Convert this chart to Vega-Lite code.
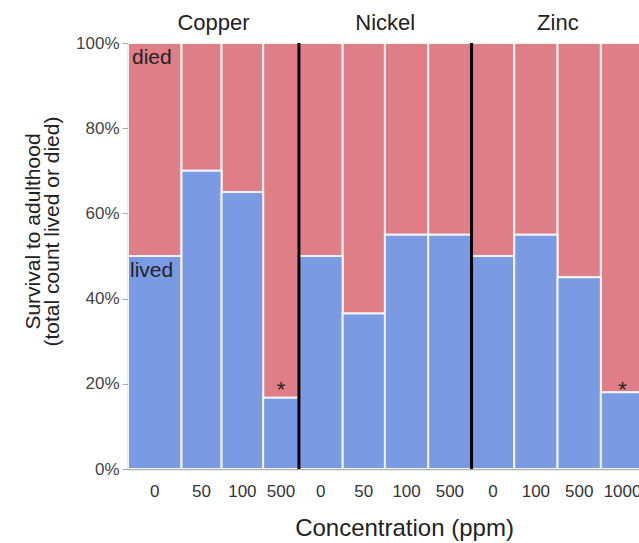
{
  "$schema": "https://vega.github.io/schema/vega-lite/v6.json",
  "autosize": {"type": "none"},
  "padding": {"left": 128, "top": 43, "right": 0, "bottom": 74},
  "width": 511,
  "height": 426,
  "config": {"view": {"stroke": null}, "font": "Liberation Sans"},
  "data": {"values": [
    {"metal": "Copper", "conc": 0, "n": 24.7, "lived": 0.50, "sig": ""},
    {"metal": "Copper", "conc": 50, "n": 18.5, "lived": 0.70, "sig": ""},
    {"metal": "Copper", "conc": 100, "n": 19.2, "lived": 0.65, "sig": ""},
    {"metal": "Copper", "conc": 500, "n": 16.5, "lived": 0.167, "sig": "*"},
    {"metal": "Nickel", "conc": 0, "n": 20.2, "lived": 0.50, "sig": ""},
    {"metal": "Nickel", "conc": 50, "n": 19.5, "lived": 0.365, "sig": ""},
    {"metal": "Nickel", "conc": 100, "n": 20.0, "lived": 0.55, "sig": ""},
    {"metal": "Nickel", "conc": 500, "n": 20.0, "lived": 0.55, "sig": ""},
    {"metal": "Zinc", "conc": 0, "n": 19.7, "lived": 0.50, "sig": ""},
    {"metal": "Zinc", "conc": 100, "n": 20.0, "lived": 0.55, "sig": ""},
    {"metal": "Zinc", "conc": 500, "n": 20.0, "lived": 0.45, "sig": ""},
    {"metal": "Zinc", "conc": 1000, "n": 20.0, "lived": 0.18, "sig": "*"}
  ]},
  "transform": [
    {"stack": "n", "groupby": [], "sort": [{"field": "metal"}, {"field": "conc"}], "as": ["x0", "x1"]},
    {"calculate": "(datum.x0 + datum.x1) / 2", "as": "xm"},
    {"joinaggregate": [{"op": "max", "field": "x1", "as": "gmax"}, {"op": "min", "field": "x0", "as": "gmin"}], "groupby": ["metal"]}
  ],
  "layer": [
    {
      "mark": {"type": "rect", "color": "#E07E88", "stroke": "#f4f4f4", "strokeWidth": 2, "clip": true},
      "encoding": {
        "x": {"field": "x0", "type": "quantitative", "scale": {"domain": [0, 235.9], "nice": false, "zero": false},
              "axis": {"title": "Concentration (ppm)", "labels": false, "ticks": false, "grid": false, "domainColor": "#b0b0b0", "domainWidth": 1.5,
                       "titleFontSize": 24, "titleFontWeight": "normal", "titleColor": "#222", "titleBaseline": "alphabetic", "titleY": 66, "titleX": 276, "titleAlign": "center", "titleAnchor": null}},
        "x2": {"field": "x1"},
        "y": {"field": "lived", "type": "quantitative", "scale": {"domain": [0, 1], "nice": false},
              "axis": {"values": [0, 0.2, 0.4, 0.6, 0.8, 1], "format": ".0%", "grid": false, "labelFontSize": 17, "labelColor": "#444", "labelPadding": 3,
                       "tickColor": "#aaa", "tickSize": 6, "domainColor": "#b0b0b0", "domainWidth": 1.5,
                       "title": ["Survival to adulthood", "(total count lived or died)"], "titleFontSize": 21, "titleFontWeight": "normal", "titleColor": "#222",
                       "titleLineHeight": 19, "titleAngle": 270, "titleBaseline": "top", "titleAlign": "center", "titleX": -106, "titleY": 188}},
        "y2": {"datum": 1}
      }
    },
    {
      "mark": {"type": "rect", "color": "#7B9AE4", "stroke": "#f4f4f4", "strokeWidth": 2, "clip": true},
      "encoding": {
        "x": {"field": "x0", "type": "quantitative"},
        "x2": {"field": "x1"},
        "y": {"field": "lived", "type": "quantitative"},
        "y2": {"datum": 0}
      }
    },
    {
      "transform": [{"filter": "datum.x1 == datum.gmax && datum.metal != 'Zinc'"}],
      "mark": {"type": "rule", "color": "black", "strokeWidth": 3},
      "encoding": {
        "x": {"field": "x1", "type": "quantitative"},
        "y": {"datum": 0},
        "y2": {"datum": 1}
      }
    },
    {
      "mark": {"type": "text", "fontSize": 17, "color": "#333", "baseline": "alphabetic", "dy": 28},
      "encoding": {
        "x": {"field": "xm", "type": "quantitative"},
        "y": {"datum": 0},
        "text": {"field": "conc"}
      }
    },
    {
      "transform": [{"filter": "datum.x0 == datum.gmin"}, {"calculate": "(datum.gmin + datum.gmax) / 2", "as": "gm"}],
      "mark": {"type": "text", "fontSize": 22, "color": "#222", "baseline": "alphabetic", "dy": -13},
      "encoding": {
        "x": {"field": "gm", "type": "quantitative"},
        "y": {"datum": 1},
        "text": {"field": "metal"}
      }
    },
    {
      "transform": [{"filter": "datum.metal == 'Copper' && datum.conc == 0"}],
      "mark": {"type": "text", "fontSize": 21, "color": "#222", "align": "left", "baseline": "top", "dx": 4, "dy": 4, "text": "died"},
      "encoding": {
        "x": {"field": "x0", "type": "quantitative"},
        "y": {"datum": 1}
      }
    },
    {
      "transform": [{"filter": "datum.metal == 'Copper' && datum.conc == 0"}],
      "mark": {"type": "text", "fontSize": 21, "color": "#222", "align": "left", "baseline": "top", "dx": 2, "dy": 4, "text": "lived"},
      "encoding": {
        "x": {"field": "x0", "type": "quantitative"},
        "y": {"field": "lived", "type": "quantitative"}
      }
    },
    {
      "transform": [{"filter": "datum.sig == '*'"}],
      "mark": {"type": "text", "fontSize": 22, "color": "#222", "baseline": "alphabetic", "dy": 13, "clip": false},
      "encoding": {
        "x": {"field": "xm", "type": "quantitative"},
        "y": {"datum": 0.2},
        "text": {"field": "sig"}
      }
    }
  ]
}
